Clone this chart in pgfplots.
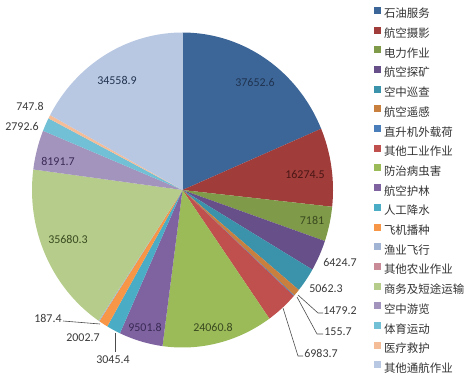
\documentclass[border=0pt]{standalone}
\usepackage{fontspec}
\setmainfont{Carlito}
\newfontfamily\cjk{Noto Sans CJK SC}
\usepackage{pgfplots}
\pgfplotsset{compat=1.18}
\usepackage{pgfplotstable}

\definecolor{c1}{HTML}{3D6698}
\definecolor{c2}{HTML}{A03C3A}
\definecolor{c3}{HTML}{7F9A48}
\definecolor{c4}{HTML}{67508A}
\definecolor{c5}{HTML}{3A93AB}
\definecolor{c6}{HTML}{C9803F}
\definecolor{c7}{HTML}{4A7EBB}
\definecolor{c8}{HTML}{C0504D}
\definecolor{c9}{HTML}{9BBB59}
\definecolor{c10}{HTML}{7F63A1}
\definecolor{c11}{HTML}{4BACC6}
\definecolor{c12}{HTML}{F79646}
\definecolor{c13}{HTML}{A2B4D4}
\definecolor{c14}{HTML}{C98B98}
\definecolor{c15}{HTML}{B5CC8A}
\definecolor{c16}{HTML}{A394BE}
\definecolor{c17}{HTML}{72C0D5}
\definecolor{c18}{HTML}{F5BC98}
\definecolor{c19}{HTML}{B9C8E2}
\definecolor{tn}{HTML}{1F3350}
\definecolor{tr}{HTML}{4A1715}
\definecolor{tg}{HTML}{3A4A20}
\definecolor{tp}{HTML}{3A2A55}
\definecolor{tk}{HTML}{3A3A3A}

% name; value; slice colour; label x, label y (pixels from top-left); label colour
\pgfplotstableread[col sep=semicolon]{
name;value;color;lx;ly;tc
石油服务;37652.6;c1;255;83;tn
航空摄影;16274.5;c2;305;175;tr
电力作业;7181;c3;312;220;tg
航空探矿;6424.7;c4;340;263;tk
空中巡查;5062.3;c5;326;289;tk
航空遥感;1479.2;c6;340;311;tk
直升机外载荷;155.7;c7;338;332;tk
其他工业作业;6983.7;c8;321;353;tk
防治病虫害;24060.8;c9;213;327;tg
航空护林;9501.8;c10;145;327;tp
人工降水;3045.4;c11;113;360;tk
飞机播种;2002.7;c12;83;338;tk
渔业飞行;187.4;c13;48;318;tk
其他农业作业;0;c14;0;0;tk
商务及短途运输;35680.3;c15;68;239;tg
空中游览;8191.7;c16;58;161;tp
体育运动;2792.6;c17;22;127;tk
医疗救护;747.8;c18;30;106;tk
其他通航作业;34558.9;c19;117;80;tn
}\piedata

\tikzset{lbl/.style={font=\fontsize{12}{14}\selectfont, inner sep=0pt},
         ldr/.style={draw=black!70, line width=0.6bp}}

\begin{document}
\begin{tikzpicture}
\path[use as bounding box] (0,0) rectangle (467bp,380bp);
\begin{axis}[
  at={(0,0)}, anchor=south west,
  scale only axis, width=467bp, height=380bp,
  xmin=0, xmax=467, ymin=0, ymax=380,
  hide axis, clip=false,
  legend image code/.code={\path[#1] (0bp,0.5bp) rectangle (7bp,7.5bp);},
  legend cell align=left,
  legend style={at={(axis description cs:0.8009,0.9819)}, anchor=north west,
    draw=none, fill=none, inner sep=0pt, outer sep=0pt,
    row sep=7.2bp, column sep=3bp,
    font=\cjk\fontsize{11.5}{12}\selectfont, text=black!80,
    nodes={inner sep=0pt, text height=8.5bp, text depth=1.5bp}},
]
\edef\ptotal{0}
\pgfplotsforeachungrouped \i in {0,...,18}{%
  \pgfplotstablegetelem{\i}{value}\of\piedata
  \edef\ptotal{\fpeval{\ptotal+\pgfplotsretval}}%
}
\edef\pcum{0}
\pgfplotsforeachungrouped \i in {0,...,18}{%
  \pgfplotstablegetelem{\i}{value}\of\piedata \edef\pv{\pgfplotsretval}%
  \pgfplotstablegetelem{\i}{name}\of\piedata \edef\pn{\pgfplotsretval}%
  \pgfplotstablegetelem{\i}{color}\of\piedata \edef\pc{\pgfplotsretval}%
  \pgfplotstablegetelem{\i}{lx}\of\piedata \edef\plx{\pgfplotsretval}%
  \pgfplotstablegetelem{\i}{ly}\of\piedata \edef\ply{\fpeval{380-\pgfplotsretval}}%
  \pgfplotstablegetelem{\i}{tc}\of\piedata \edef\ptc{\pgfplotsretval}%
  \edef\pa{\fpeval{\pcum/\ptotal*360}}%
  \edef\pcum{\fpeval{\pcum+\pv}}%
  \edef\pb{\fpeval{\pcum/\ptotal*360}}%
  \ifnum\fpeval{\pv>0}=1
    \edef\cmd{\noexpand\addplot[fill=\pc, draw=none, domain=\pa:\pb, samples=40]
      ({182.5+150.5*sin(x)},{190+157.5*cos(x)}) -- (axis cs:182.5,190) -- cycle;
      \noexpand\addlegendentry{\pn}
      \noexpand\node[lbl, text=\ptc] at (axis cs:\plx,\ply) {\pv};}%
  \else
    \edef\cmd{\noexpand\addlegendimage{fill=\pc, draw=none}
      \noexpand\addlegendentry{\pn}}%
  \fi
  \cmd
}
% leader lines
\draw[ldr] (axis cs:298,85) -- (axis cs:318,67) -- (axis cs:323,67);
\draw[ldr] (axis cs:297,83) -- (axis cs:317,46) -- (axis cs:323,46);
\draw[ldr] (axis cs:283,72) -- (axis cs:298,24) -- (axis cs:303,24);
\draw[ldr] (axis cs:115,47) -- (axis cs:115,28);
\draw[ldr] (axis cs:63,59) -- (axis cs:100,56);
\end{axis}
\end{tikzpicture}
\end{document}
